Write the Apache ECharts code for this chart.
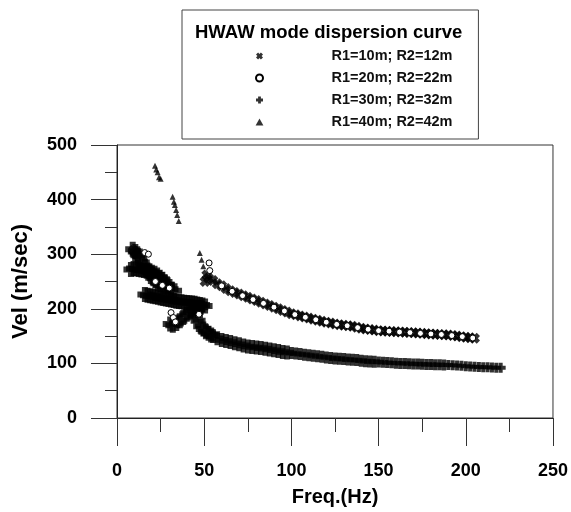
<!DOCTYPE html>
<html><head><meta charset="utf-8">
<script src="https://cdn.jsdelivr.net/npm/echarts/dist/echarts.min.js"></script>
<style>html,body{margin:0;padding:0;background:#fff}#c{width:571px;height:512px}</style>
</head><body><div id="c"></div>
<script>
// ---- data ----
const seriesNames = ['R1=10m; R2=12m', 'R1=20m; R2=22m', 'R1=30m; R2=32m', 'R1=40m; R2=42m'];
const xTicks = [0, 50, 100, 150, 200, 250];
const yTicks = [0, 100, 200, 300, 400, 500];

// R1=10m (x marks) – upper branch
const crossFreq = [9.5, 11.5, 50.5, 51.5, 52.5,
  55, 57.5, 60, 62.5, 65, 67.5, 70, 72.5, 75, 77.5,
  80, 82.5, 85, 87.5, 90, 92.5, 95, 97.5, 100, 102.5,
  105, 107.5, 110, 112.5, 115, 117.5, 120, 122.5, 125, 127.5,
  130, 132.5, 135, 137.5, 140, 142.5, 145, 147.5, 150, 152.5,
  155, 157.5, 160, 162.5, 165, 167.5, 170, 172.5, 175, 177.5,
  180, 182.5, 185, 187.5, 190, 192.5, 195, 197.5, 200, 202.5, 205];
const crossVel = [307, 300, 250, 262, 256,
  252, 246, 242, 237, 233, 230, 227, 224, 221, 218,
  215, 212, 209, 206, 203, 200, 197, 194, 191, 189,
  187, 185, 183, 181, 179, 177, 175.5, 174, 172, 171,
  170, 169, 168, 166, 164.5, 163, 162, 161, 160, 159.5,
  159, 158.5, 158, 157.5, 157, 156.5, 156, 155.5, 155, 154.5,
  154, 153.5, 153, 152.5, 152, 151, 150, 149, 148, 147, 146];

// R1=20m (open circles)
const circleFreq = [15.9, 18, 22, 26, 30, 31, 32.3, 33.5, 47, 52.8, 53.2,
  60, 66, 72, 78, 84, 90, 96, 102, 108, 114, 120, 126, 132, 138, 144,
  150, 156, 162, 168, 174, 180, 186, 192, 198, 204];
const circleVel = [303, 300, 250, 243, 238, 193, 184, 176, 190, 284, 270,
  242, 232, 224, 217, 210, 203, 196, 189.5, 184.5, 180, 175.5, 171.5, 169, 165.5, 162.5,
  160, 159, 157.5, 156.5, 155, 154, 153, 151, 149, 146.5];

// R1=30m (+ marks) – low-frequency loops
const plusLowFreq = [9, 10.5, 12, 13, 14.5, 16, 17.5, 19, 20.5, 22, 23.5, 25, 27, 29, 31, 33,
  8, 9.5, 11, 12.5, 14, 15.5, 17, 18.5, 20, 21.5, 23, 24.5, 26, 27.5, 29,
  16, 17.5, 19, 20.5, 22, 23.5, 25, 26.5, 28, 29.5, 31, 32.5, 34, 35.5, 37, 38.5, 40, 41.5, 43, 44.5, 46, 47.5, 49, 50.5,
  48, 46, 44, 42, 40, 38, 36, 34, 32, 30.5,
  45, 46.5, 48, 49.5, 51, 52.5, 54];
const plusLowVel = [309, 305, 298, 292, 285, 278, 271, 264, 257, 251, 247, 244, 241, 238, 236, 233,
  272, 274, 273, 272, 271, 270, 269, 268, 267, 265, 262, 258, 254, 249, 244,
  226, 225, 224, 223, 222, 221, 220, 219, 218, 217, 216, 215, 214, 213.5, 213, 212, 211.5, 211, 210.5, 210, 209, 208, 207, 205,
  203, 200, 197, 194, 190, 184, 178, 173, 170, 172,
  188, 178, 168, 163, 158, 155, 152];
// R1=30m (+ marks) – main lower branch
const plusMainFreq = [55, 57.5, 60, 62.5, 65, 67.5, 70, 72.5, 75, 77.5,
  80, 82.5, 85, 87.5, 90, 92.5, 95, 97.5, 100, 102.5,
  105, 107.5, 110, 112.5, 115, 117.5, 120, 122.5, 125, 127.5,
  130, 132.5, 135, 137.5, 140, 142.5, 145, 147.5, 150, 152.5,
  155, 157.5, 160, 162.5, 165, 167.5, 170, 172.5, 175, 177.5,
  180, 182.5, 185, 187.5, 190, 192.5, 195, 197.5, 200, 202.5,
  205, 207.5, 210, 212.5, 215, 217.5, 220];
const plusMainVel = [150, 146, 143, 141, 139, 137, 135, 133, 131, 130,
  129, 128, 127, 125.5, 124, 122.5, 121, 120, 119, 118,
  117, 116, 115, 114, 113, 112, 111, 110, 109, 108.5,
  108, 107, 106.5, 106, 105, 104, 103.5, 103, 102.5, 102,
  101.5, 101, 100.5, 100, 100, 99.5, 99, 99, 98.5, 98,
  98, 97.5, 97.5, 97, 97, 96.5, 96, 95.5, 95, 94.5,
  94, 93.5, 93, 93, 92.5, 92, 92];

// R1=40m (triangles)
const triFreq = [21.8, 22.5, 23.3, 24.1, 25, 31.9, 32.6, 33.2, 33.9, 34.5, 35.4, 47.5, 48.5, 49.5, 60, 100, 140, 180, 200];
const triVel = [462, 455, 450, 441, 438, 405, 396, 390, 381, 372, 361, 302, 290, 278, 243, 191, 165, 154, 148];

// ---- build ----
const zip = (a, b) => a.map((v, i) => [v, b[i]]);
const FONT = 'Liberation Sans, Arial, sans-serif';
const crossSym = 'path://M0,3L3,0L5,2L7,0L10,3L8,5L10,7L7,10L5,8L3,10L0,7L2,5Z';
const circleSym = 'path://M5,0A5,5,0,1,1,5,10A5,5,0,1,1,5,0Z';
const plusSym = 'path://M3,0H7V3H10V7H7V10H3V7H0V3H3Z';
const triSym = 'path://M5,0L10,9L0,9Z';

const chart = echarts.init(document.getElementById('c'), null, {renderer: 'canvas'});
const axisCommon = {
  type: 'value',
  axisLine: {show: true, onZero: false, lineStyle: {color: '#222', width: 1}},
  axisTick: {show: true, inside: false, lineStyle: {color: '#333', width: 1}},
  minorTick: {show: true, splitNumber: 2, lineStyle: {color: '#333', width: 1}},
  splitLine: {show: false},
  minorSplitLine: {show: false},
  axisLabel: {fontSize: 18, fontWeight: 'bold', color: '#000', fontFamily: FONT},
  nameLocation: 'middle'
};
chart.setOption({
  animation: false,
  textStyle: {fontFamily: FONT},
  title: {
    text: 'HWAW mode dispersion curve', left: 195, top: 23, padding: 0,
    textStyle: {fontSize: 18.5, fontWeight: 'bold', color: '#000', fontFamily: FONT}
  },
  legend: {
    data: seriesNames, orient: 'vertical', left: 182, top: 10,
    padding: [38, 26, 9, 73], itemWidth: 10, itemHeight: 7, itemGap: 6,
    borderColor: '#444', borderWidth: 1, selectedMode: false,
    textStyle: {fontSize: 14.5, fontWeight: 'bold', color: '#111', lineHeight: 16,
      padding: [0, 0, 0, 62], fontFamily: FONT}
  },
  grid: {left: 117, right: 18, top: 145, bottom: 93, show: true, borderColor: '#333', borderWidth: 1, backgroundColor: 'transparent'},
  xAxis: Object.assign({}, axisCommon, {
    min: xTicks[0], max: xTicks[xTicks.length - 1], interval: xTicks[1] - xTicks[0],
    axisTick: Object.assign({}, axisCommon.axisTick, {length: 28}),
    minorTick: Object.assign({}, axisCommon.minorTick, {length: 14}),
    axisLabel: Object.assign({}, axisCommon.axisLabel, {margin: 44}),
    name: 'Freq.(Hz)', nameGap: 69,
    nameTextStyle: {fontSize: 20, fontWeight: 'bold', color: '#000', fontFamily: FONT}
  }),
  yAxis: Object.assign({}, axisCommon, {
    min: yTicks[0], max: yTicks[yTicks.length - 1], interval: yTicks[1] - yTicks[0],
    axisTick: Object.assign({}, axisCommon.axisTick, {length: 26}),
    minorTick: Object.assign({}, axisCommon.minorTick, {length: 12}),
    axisLabel: Object.assign({}, axisCommon.axisLabel, {margin: 40}),
    name: 'Vel (m/sec)', nameGap: 85,
    nameTextStyle: {fontSize: 22, fontWeight: 'bold', color: '#000', fontFamily: FONT}
  }),
  series: [
    {name: seriesNames[0], type: 'scatter', symbol: crossSym, symbolSize: 11, z: 2,
     itemStyle: {color: '#000'}, data: zip(crossFreq, crossVel)},
    {name: seriesNames[1], type: 'scatter', symbol: circleSym, symbolSize: 6, z: 4,
     itemStyle: {color: '#fff', borderColor: '#000', borderWidth: 1, opacity: 1}, data: zip(circleFreq, circleVel)},
    {name: seriesNames[2], type: 'scatter', symbol: plusSym, z: 3,
     symbolSize: (val) => val[0] < 55 ? 15 : (val[0] < 100 ? 14 : (val[0] < 150 ? 12 : (val[0] < 190 ? 11 : 10))),
     itemStyle: {color: '#000'}, data: zip(plusLowFreq, plusLowVel).concat(zip(plusMainFreq, plusMainVel))},
    {name: seriesNames[3], type: 'scatter', symbol: triSym, symbolSize: 6, z: 3,
     itemStyle: {color: '#000'}, data: zip(triFreq, triVel)}
  ]
});
</script></body></html>
